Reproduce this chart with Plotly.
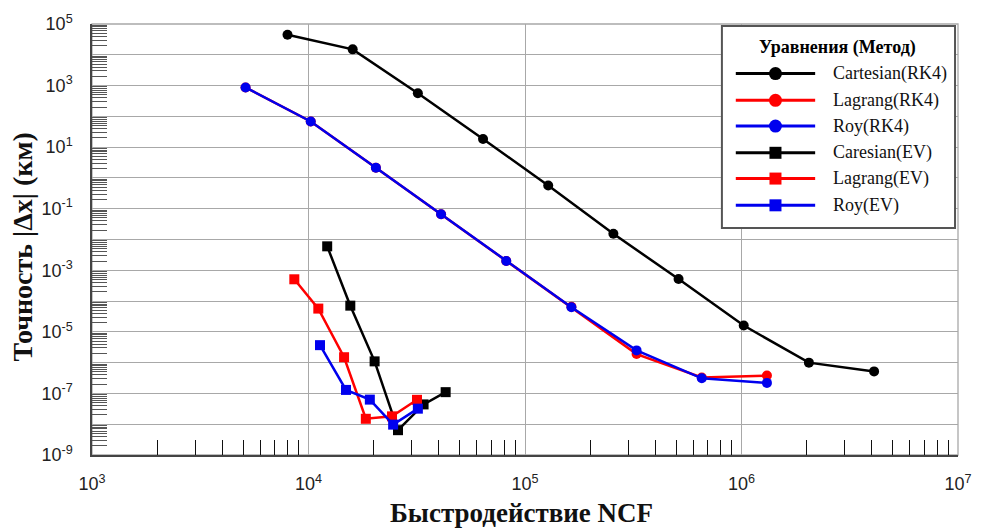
import plotly.graph_objects as go

# ---- data: accuracy |dx| (km) vs. number of right-hand-side calls (NCF) ----
ncf_cart_rk4 = [8000, 16000, 32000, 64000, 128000, 256000, 512000, 1024000, 2048000, 4096000]
err_cart_rk4 = [4.5e4, 1.5e4, 560, 18.5, 0.57, 0.0153, 5.2e-4, 1.6e-5, 1.0e-6, 5.2e-7]

ncf_rk4 = [5120, 10240, 20480, 40960, 81920, 163840, 327680, 655360, 1310720]
err_lag_rk4 = [870, 68, 2.15, 0.066, 2.0e-3, 6.5e-5, 1.9e-6, 3.3e-7, 3.8e-7]
err_roy_rk4 = [870, 68, 2.15, 0.066, 2.0e-3, 6.3e-5, 2.5e-6, 3.1e-7, 2.2e-7]

ncf_cart_ev = [12200, 15600, 20200, 25900, 34000, 43000]
err_cart_ev = [6.0e-3, 7.1e-5, 1.1e-6, 6.4e-9, 4.4e-8, 1.1e-7]

ncf_lag_ev = [8600, 11100, 14600, 18400, 24300, 31700]
err_lag_ev = [5.1e-4, 5.7e-5, 1.5e-6, 1.5e-8, 1.8e-8, 6.2e-8]

ncf_roy_ev = [11300, 14900, 19200, 24600, 32000]
err_roy_ev = [3.7e-6, 1.3e-7, 6.3e-8, 9.7e-9, 3.2e-8]

series_names = ["Cartesian(RK4)", "Lagrang(RK4)", "Roy(RK4)",
                "Caresian(EV)", "Lagrang(EV)", "Roy(EV)"]
legend_title = "Уравнения (Метод)"
x_title = "Быстродействие NCF"
y_title = "Точность |Δx| (км)"

x_decades = [3, 4, 5, 6, 7]
y_decades = list(range(-9, 6))

BLACK, RED, BLUE = "#000000", "#ff0000", "#0000ee"
SERIF = "Liberation Serif"
SANS = "Liberation Sans"

series = [
    (ncf_cart_rk4, err_cart_rk4, BLACK, "circle"),
    (ncf_rk4, err_lag_rk4, RED, "circle"),
    (ncf_rk4, err_roy_rk4, BLUE, "circle"),
    (ncf_cart_ev, err_cart_ev, BLACK, "square"),
    (ncf_lag_ev, err_lag_ev, RED, "square"),
    (ncf_roy_ev, err_roy_ev, BLUE, "square"),
]

fig = go.Figure()
for name, (xs, ys, col, sym) in zip(series_names, series):
    fig.add_trace(go.Scatter(
        x=xs, y=ys, name=name, mode="lines+markers",
        line=dict(color=col, width=2.5),
        marker=dict(color=col, symbol=sym, size=10, line=dict(width=0)),
        showlegend=False,
    ))

# plot area in pixels
W, H = 984, 531
L, R, T, B = 92, 19, 20, 76
PW, PH = W - L - R, H - T - B


def px(x):
    return (x - L) / PW


def py(y):
    return 1 - (y - T) / PH


def minor_vals(decades):
    vals = []
    for d in decades[:-1]:
        for k in range(2, 10):
            vals.append(k * 10.0 ** d)
    return vals


grid_col = "#a8a8a8"
fig.update_xaxes(
    type="log", range=[3, 7],
    tickmode="array",
    tickvals=[10.0 ** d for d in x_decades],
    ticktext=[f"10<sup>{d}</sup>" for d in x_decades],
    ticks="", ticklabelstandoff=12,
    tickfont=dict(family=SANS, size=18, color="#222"),
    showgrid=True, gridcolor=grid_col, gridwidth=1.3,
    showline=True, linecolor="#444", linewidth=1.5,
    zeroline=False,
    minor=dict(tickmode="array", tickvals=minor_vals(x_decades),
               ticks="inside", ticklen=15, tickcolor="#111", tickwidth=1.2,
               showgrid=False),
)
fig.update_yaxes(
    type="log", range=[-9, 5],
    tickmode="array",
    tickvals=[10.0 ** d for d in y_decades],
    ticktext=[f"10<sup>{d}</sup>" if d % 2 else "" for d in y_decades],
    ticks="", ticklabelstandoff=14,
    tickfont=dict(family=SANS, size=18, color="#222"),
    showgrid=True, gridcolor=grid_col, gridwidth=1.3,
    showline=True, linecolor="#444", linewidth=1.5,
    zeroline=False,
    minor=dict(tickmode="array", tickvals=minor_vals(y_decades),
               ticks="inside", ticklen=15, tickcolor="#555", tickwidth=1,
               showgrid=False),
)

shapes = []
annotations = []

# outer frame (top / right edges)
shapes.append(dict(type="rect", xref="paper", yref="paper", x0=0, x1=1, y0=0, y1=1,
                   line=dict(color=grid_col, width=1.3), layer="below"))

# legend box
shapes.append(dict(type="rect", xref="paper", yref="paper",
                   x0=px(727), x1=px(962), y0=py(226), y1=py(22),
                   fillcolor="white", line=dict(color="#555", width=2), layer="above"))
annotations.append(dict(xref="paper", yref="paper", x=px(844), y=py(44),
                        text=f"<b>{legend_title}</b>", showarrow=False,
                        xanchor="center", yanchor="middle",
                        font=dict(family=SERIF, size=18, color="#000")))

row_y = [70, 97, 123, 150, 176, 203]
for name, (xs, ys, col, sym), ry in zip(series_names, series, row_y):
    shapes.append(dict(type="line", xref="paper", yref="paper",
                       x0=px(741), x1=px(821), y0=py(ry), y1=py(ry),
                       line=dict(color=col, width=3), layer="above"))
    half = 6.5 if sym == "circle" else 6
    shapes.append(dict(type="circle" if sym == "circle" else "rect",
                       xref="paper", yref="paper",
                       xsizemode="pixel", ysizemode="pixel",
                       xanchor=px(781), yanchor=py(ry),
                       x0=-half, x1=half, y0=-half, y1=half,
                       fillcolor=col, line=dict(width=0), layer="above"))
    annotations.append(dict(xref="paper", yref="paper", x=px(837), y=py(ry),
                            text=name, showarrow=False,
                            xanchor="left", yanchor="middle",
                            font=dict(family=SERIF, size=18, color="#111")))

# axis titles
annotations.append(dict(xref="paper", yref="paper", x=px(525), y=py(514),
                        text=f"<b>{x_title}</b>", showarrow=False,
                        xanchor="center", yanchor="middle",
                        font=dict(family=SERIF, size=27, color="#111")))
annotations.append(dict(xref="paper", yref="paper", x=px(22), y=py(245),
                        text=f"<b>{y_title}</b>", showarrow=False, textangle=-90,
                        xanchor="center", yanchor="middle",
                        font=dict(family=SERIF, size=28, color="#111")))

fig.update_layout(
    width=W, height=H,
    margin=dict(l=L, r=R, t=T, b=B),
    paper_bgcolor="white", plot_bgcolor="white",
    shapes=shapes, annotations=annotations,
    showlegend=False,
)

fig.write_html("out.html")
